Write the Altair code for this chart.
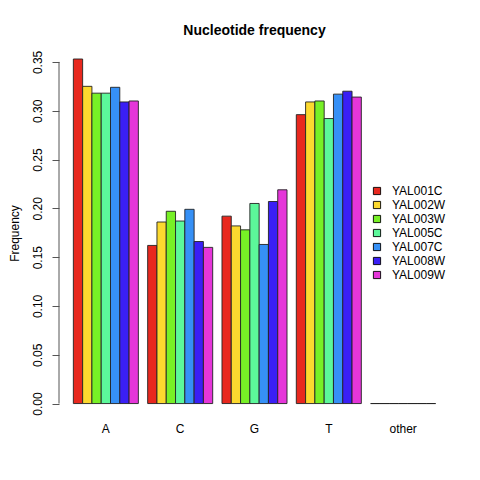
import altair as alt
import pandas as pd

nucleotides = ["A", "C", "G", "T", "other"]
genes = ["YAL001C", "YAL002W", "YAL003W", "YAL005C", "YAL007C", "YAL008W", "YAL009W"]
colors = ["#E8281E", "#FCD92F", "#77F026", "#5CF89A", "#3690F6", "#3A1FF5", "#E536D9"]

YAL001C = [0.353, 0.162, 0.192, 0.296, 0.0]
YAL002W = [0.325, 0.186, 0.182, 0.309, 0.0]
YAL003W = [0.318, 0.197, 0.178, 0.310, 0.0]
YAL005C = [0.318, 0.187, 0.205, 0.292, 0.0]
YAL007C = [0.324, 0.199, 0.163, 0.317, 0.0]
YAL008W = [0.309, 0.166, 0.207, 0.320, 0.0]
YAL009W = [0.310, 0.160, 0.219, 0.314, 0.0]

y_ticks = [0.0, 0.05, 0.10, 0.15, 0.20, 0.25, 0.30, 0.35]

series = [YAL001C, YAL002W, YAL003W, YAL005C, YAL007C, YAL008W, YAL009W]
rows = []
for g, vals in zip(genes, series):
    for n, v in zip(nucleotides, vals):
        rows.append({"nucleotide": n, "gene": g, "freq": v})
df = pd.DataFrame(rows)

ymax = max(max(s) for s in series)
ydom = [-0.01 * ymax, ymax]

FONT = "Liberation Sans"

bars = alt.Chart(df).mark_bar(stroke="#222222", strokeWidth=0.9).encode(
    x=alt.X("nucleotide:N", sort=nucleotides,
            scale=alt.Scale(paddingInner=0.125, paddingOuter=0.193),
            axis=alt.Axis(title=None, domain=False, ticks=False, tickSize=0,
                          labelAngle=0, labelFontSize=12, labelFont=FONT,
                          labelColor="black", labelPadding=16,
                          labelBaseline="top")),
    xOffset=alt.XOffset("gene:N", sort=genes,
                        scale=alt.Scale(paddingInner=0, paddingOuter=0)),
    y=alt.Y("freq:Q",
            scale=alt.Scale(domain=ydom, nice=False, zero=False),
            axis=alt.Axis(title="Frequency", values=y_ticks, format=".2f",
                          grid=False, domain=False, tickSize=7,
                          tickColor="#555555", labelAngle=270,
                          labelAlign="center", labelBaseline="bottom",
                          labelPadding=8, labelFontSize=12, labelFont=FONT,
                          labelColor="black", titleFont=FONT,
                          titleFontSize=12, titleFontWeight="normal",
                          titleAngle=270, titleAlign="center",
                          titleBaseline="bottom", titleX=-38, titleY=174,
                          titleColor="black")),
    color=alt.Color("gene:N", sort=genes,
                    scale=alt.Scale(domain=genes, range=colors),
                    legend=alt.Legend(title=None, orient="none",
                                      legendX=312, legendY=126,
                                      symbolType="square", symbolSize=52,
                                      symbolStrokeColor="black",
                                      symbolStrokeWidth=0.9,
                                      labelFontSize=12, labelFont=FONT,
                                      labelColor="black", labelOffset=9,
                                      rowPadding=2, padding=0)),
)

axis_line = alt.Chart(pd.DataFrame({"lo": [y_ticks[0]], "hi": [y_ticks[-1]]})).mark_rule(
    color="#555555", strokeWidth=1
).encode(x=alt.value(0), y="lo:Q", y2="hi:Q")

chart = alt.layer(bars, axis_line).properties(
    width=391,
    height=348,
    background="white",
    title=alt.TitleParams("Nucleotide frequency", font=FONT, fontSize=14,
                          fontWeight="bold", color="black", offset=12,
                          anchor="middle"),
    autosize="none",
    padding={"left": 51, "top": 51, "right": 20, "bottom": 50},
).configure_view(stroke=None, strokeWidth=0)

chart.save("out.html", embed_options={"renderer": "svg", "actions": False})
